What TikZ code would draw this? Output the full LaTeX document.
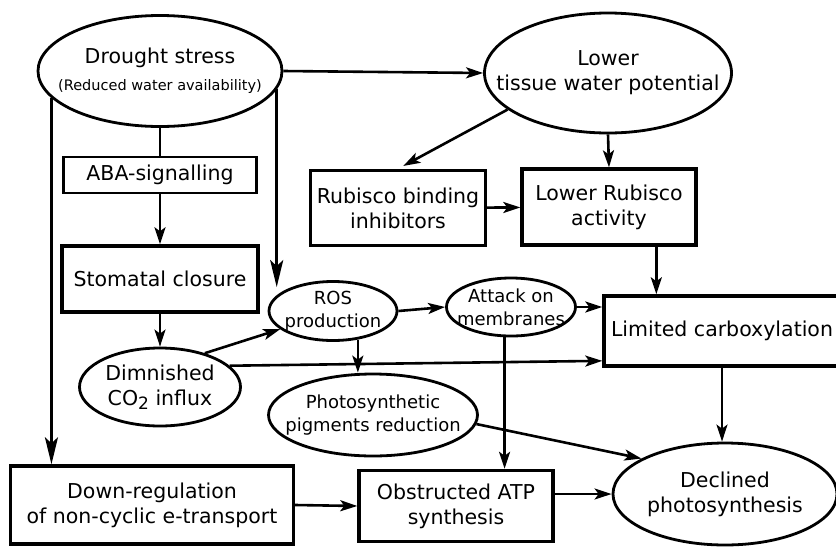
\documentclass[tikz,border=0pt]{standalone}
\usepackage{fontspec}
\setmainfont{DejaVu Sans}
\usetikzlibrary{shapes.geometric,arrows.meta}

\newcommand\fsmain{\fontsize{20.5}{25}\selectfont}
\newcommand\fssmall{\fontsize{18}{23}\selectfont}
\newcommand\fstiny{\fontsize{14.5}{17}\selectfont}

\begin{document}
\begin{tikzpicture}[x=1pt, y=-1pt,
        box/.style 2 args = {draw, rectangle, line width=3.4pt, minimum width=#1, minimum height=#2, align=center, font=\fsmain},
        oval/.style 2 args = {draw, ellipse, line width=2.8pt, inner xsep=-40pt, inner ysep=0pt, minimum width=#1, minimum height=#2, align=center, font=\fsmain},
        arr/.style = {line width=2.6pt, -{Stealth[length=17pt, width=11pt, inset=4pt]}},
        bigarr/.style = {line width=2.8pt, -{Stealth[length=27pt, width=13pt, inset=6pt]}}]
        \useasboundingbox (0,0) rectangle (836,547);
        \clip (0,0) rectangle (836,547);

        % top row
        \node[oval={244pt}{111pt}] (drought) at (160,71) {Drought stress\\[2pt]{\fstiny(Reduced water availability)}};
        \node[oval={247pt}{120pt}] (tissue) at (608,73) {Lower\\tissue water potential};

        % left column
        \node[box={193pt}{36pt}, line width=2.4pt] (aba) at (160,175) {ABA-signalling};
        \node[box={196pt}{66pt}] (stomatal) at (160,279) {Stomatal closure};
        \node[oval={161pt}{78pt}] (dimco2) at (160,387) {Dimnished\\CO\raisebox{-0.35ex}{\fontsize{17}{17}\selectfont 2} influx};
        \node[box={283pt}{78pt}] (down) at (152,505) {Down-regulation\\of non-cyclic e-transport};

        % rubisco
        \node[box={175pt}{75pt}] (rubisco) at (398,208) {Rubisco binding\\inhibitors};
        \node[box={174pt}{76pt}] (lrub) at (609,207) {Lower Rubisco\\activity};

        % middle
        \node[oval={128pt}{59pt}, font=\fssmall] (ros) at (333,311) {ROS\\production};
        \node[oval={129pt}{58pt}, font=\fssmall] (attack) at (511,307) {Attack on\\membranes};
        \node[oval={209pt}{82pt}, font=\fssmall] (photo) at (373,415) {Photosynthetic\\pigments reduction};
        \node[box={236pt}{70pt}] (limited) at (722,331) {Limited carboxylation};
        \node[box={194pt}{71pt}] (atp) at (456,506) {Obstructed ATP\\synthesis};
        \node[oval={224pt}{102pt}] (declined) at (725,494) {Declined\\photosynthesis};

        % connectors
        \draw[arr] (drought.east) -- (tissue.west);
        \draw[line width=2.6pt] (drought.south) -- (aba.north);
        \draw[arr] (aba) -- (stomatal);
        \draw[bigarr] (drought.194) -- (drought.194 |- down.north);
        \draw[bigarr] (drought.351) -- (drought.351 |- ros.150);
        \draw[arr] (stomatal) -- (dimco2);
        \draw[arr] (dimco2.37) -- (ros.199);
        \draw[arr] (dimco2.17) -- (limited.194);
        \draw[arr] (ros.east) -- (attack.west);
        \draw[arr] (ros.311) -- (ros.311 |- photo.north);
        \draw[arr] (attack.east) -- (attack.east -| limited.west);
        \draw[arr] (attack.258) -- (attack.258 |- atp.north);
        \draw[arr] (photo.355) -- (declined.157);
        \draw[arr] (limited.south) -- (limited.south |- declined.north);
        \draw[arr] (declined.west -| atp.east) -- (declined.west);
        \draw[arr] (down.east) -- (atp.west);
        \draw[arr, shorten >=6pt] (tissue.200) -- (rubisco.north);
        \draw[arr] (tissue.south) -- (lrub.north);
        \draw[arr] (rubisco) -- (lrub);
        \draw[arr] (lrub.-40) -- (lrub.-40 |- limited.north);
    \end{tikzpicture}
\end{document}
